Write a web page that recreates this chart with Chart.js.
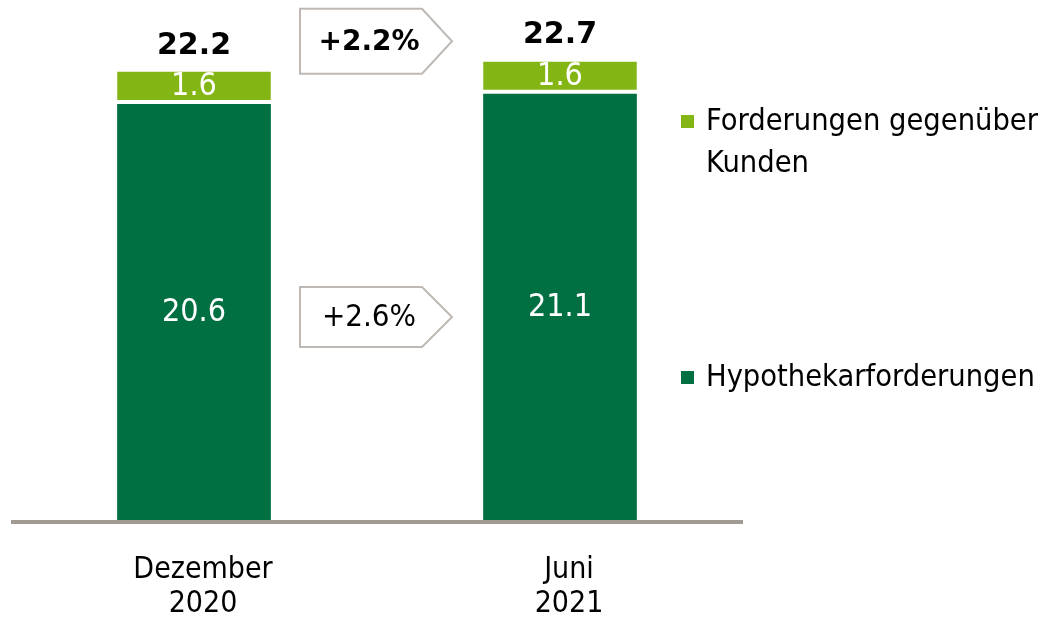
<!DOCTYPE html>
<html>
<head>
<meta charset="utf-8">
<script src="https://cdn.jsdelivr.net/npm/chart.js@4.4.1/dist/chart.umd.min.js"></script>
<style>
  html, body { margin: 0; padding: 0; background: #fff; }
  #wrap { width: 1042px; height: 617px; position: relative; }
</style>
</head>
<body>
<div id="wrap"><canvas id="loanChart"></canvas></div>
<script>
// chart data
const categories = [['Dezember', '2020'], ['Juni', '2021']];
const hypothekar = [20.6, 21.1];
const forderungen = [1.6, 1.6];
const growthLabels = ['+2.6%', '+2.2%']; // Hypothekarforderungen, total
const seriesNames = ['Hypothekarforderungen', ['Forderungen gegenüber', 'Kunden']];

const DARK = '#006F41';
const LIGHT = '#83B515';
const FONT = "'DejaVu Sans Condensed', 'DejaVu Sans', sans-serif";
const BOLD_FONT = "'DejaVu Sans', sans-serif";

// draws labels, totals, growth arrows, axis line and legend
const overlay = {
    id: 'overlay',
    afterDatasetsDraw(chart) {
        const ctx = chart.ctx;
        const area = chart.chartArea;
        const x = chart.scales.x;
        const y = chart.scales.y;
        ctx.save();

        // axis line
        ctx.fillStyle = '#A19A93';
        ctx.fillRect(area.left, area.bottom, area.right - area.left, 4);

        // values inside segments
        ctx.fillStyle = '#fff';
        ctx.textAlign = 'center';
        ctx.textBaseline = 'middle';
        ctx.font = '32px ' + FONT;
        chart.data.datasets.forEach((ds, di) => {
            chart.getDatasetMeta(di).data.forEach((bar, i) => {
                let top = bar.y, bottom = bar.base;
                if (di === 1) bottom -= 4;
                ctx.fillText(ds.data[i].toFixed(1), bar.x, (top + bottom) / 2 + 1);
            });
        });

        // totals on top
        ctx.fillStyle = '#000';
        ctx.textBaseline = 'alphabetic';
        ctx.font = 'bold 30px ' + BOLD_FONT;
        categories.forEach((c, i) => {
            const total = hypothekar[i] + forderungen[i];
            ctx.fillText(total.toFixed(1), x.getPixelForValue(i), y.getPixelForValue(total) - 18);
        });

        // growth arrows between the bars
        const bar0 = chart.getDatasetMeta(0).data[0];
        const bar1 = chart.getDatasetMeta(0).data[1];
        const gx = ((bar0.x + bar0.width / 2) + (bar1.x - bar1.width / 2)) / 2;
        const boxes = [
            { text: growthLabels[0], cy: y.getPixelForValue(10.05), h: 60, bold: false },
            { text: growthLabels[1], cy: y.getPixelForValue(23.7), h: 65, bold: true }
        ];
        boxes.forEach(b => {
            const l = gx - 77, r = gx + 45, tip = gx + 75;
            const t = b.cy - b.h / 2, btm = b.cy + b.h / 2;
            ctx.beginPath();
            ctx.moveTo(l, t);
            ctx.lineTo(r, t);
            ctx.lineTo(tip, b.cy);
            ctx.lineTo(r, btm);
            ctx.lineTo(l, btm);
            ctx.closePath();
            ctx.fillStyle = '#fff';
            ctx.fill();
            ctx.strokeStyle = '#BEB9B4';
            ctx.lineWidth = 2;
            ctx.stroke();
            ctx.fillStyle = '#000';
            ctx.textBaseline = 'middle';
            ctx.font = b.bold ? 'bold 28px ' + BOLD_FONT : '31px ' + FONT;
            ctx.fillText(b.text, gx - 8, b.cy + 1);
        });

        // category labels
        ctx.textBaseline = 'alphabetic';
        ctx.font = '30px ' + FONT;
        categories.forEach((c, i) => {
            const cx = x.getPixelForValue(i) + 9;
            ctx.fillText(c[0], cx, 578);
            ctx.fillText(c[1], cx, 612);
        });

        // legend
        ctx.textAlign = 'left';
        ctx.font = '30.5px ' + FONT;
        ctx.fillStyle = LIGHT;
        ctx.fillRect(681, 115, 13, 13);
        ctx.fillStyle = DARK;
        ctx.fillRect(681, 371, 13, 13);
        ctx.fillStyle = '#000';
        ctx.fillText(seriesNames[1][0], 706, 130);
        ctx.fillText(seriesNames[1][1], 706, 172);
        ctx.fillText(seriesNames[0], 706, 386);

        ctx.restore();
    }
};

const ctx = document.getElementById('loanChart').getContext('2d');
const loanChart = new Chart(ctx, {
    type: 'bar',
    data: {
        labels: categories,
        datasets: [{
            label: 'Hypothekarforderungen',
            data: hypothekar,
            backgroundColor: DARK,
            borderWidth: 0
        }, {
            label: 'Forderungen gegenüber Kunden',
            data: forderungen,
            backgroundColor: LIGHT,
            borderColor: '#fff',
            borderWidth: { top: 0, left: 0, right: 0, bottom: 4 },
            borderSkipped: false
        }]
    },
    options: {
        responsive: true,
        maintainAspectRatio: false,
        animation: false,
        layout: { padding: { left: 11, right: 299, top: 15, bottom: 97 } },
        datasets: {
            bar: { barPercentage: 0.42, categoryPercentage: 1, inflateAmount: 0 }
        },
        scales: {
            x: { stacked: true, display: false },
            y: { stacked: true, display: false, min: 0, max: 25 }
        },
        plugins: {
            legend: { display: false },
            tooltip: { enabled: false }
        }
    },
    plugins: [overlay]
});
</script>
</body>
</html>
